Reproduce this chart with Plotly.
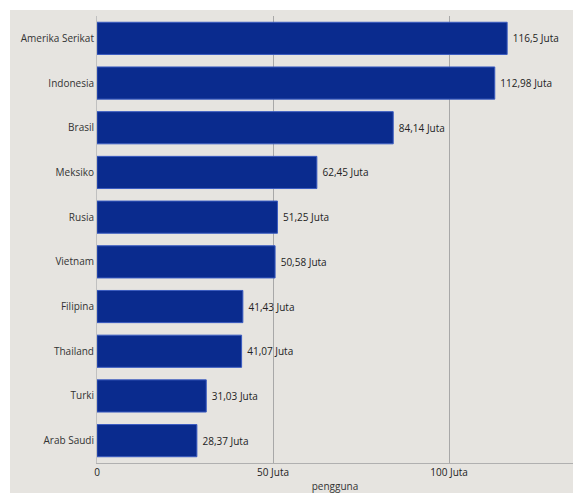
import plotly.graph_objects as go

countries = ["Amerika Serikat", "Indonesia", "Brasil", "Meksiko", "Rusia",
             "Vietnam", "Filipina", "Thailand", "Turki", "Arab Saudi"]
users = [116.5, 112.98, 84.14, 62.45, 51.25, 50.58, 41.43, 41.07, 31.03, 28.37]
tick_vals = [0, 50, 100]
tick_text = ["0", "50 Juta", "100 Juta"]

labels = [f"{v}".replace(".", ",") + " Juta" for v in users]

fig = go.Figure(go.Bar(
    x=users, y=countries, orientation="h",
    marker=dict(color="#0a2b8e", line=dict(color="#3a5bc0", width=1)),
    width=0.72,
    text=labels, texttemplate=" %{text}", textposition="outside", cliponaxis=False,
    textfont=dict(family="Open Sans", size=10, color="#222"),
))

fig.update_layout(
    width=573, height=493,
    margin=dict(l=97, r=0, t=16, b=30),
    paper_bgcolor="#e6e4e0", plot_bgcolor="#e6e4e0",
    font=dict(family="Open Sans", size=10, color="#333"),
    showlegend=False,
    shapes=[
        dict(type="rect", xref="paper", yref="paper", x0=-1, x1=2, y0=1.0134, y1=2,
             line_width=0, fillcolor="white", layer="below"),
        dict(type="rect", xref="paper", yref="paper", x0=-1, x1=-0.1828, y0=-1, y1=2,
             line_width=0, fillcolor="white", layer="below"),
    ],
)
fig.update_xaxes(range=[0, 135.2], tickvals=tick_vals, ticktext=tick_text,
                 showgrid=True, gridcolor="#a8a8a8", gridwidth=1,
                 showline=True, linecolor="#b0b0b0", zeroline=False,
                 ticks="", title=dict(text="pengguna", standoff=6,
                                      font=dict(size=10, color="#333")),
                 tickfont=dict(size=10, color="#222"))
fig.update_yaxes(categoryorder="array", categoryarray=countries[::-1],
                 showline=True, linecolor="#c0c0c0", ticks="", ticklen=0,
                 tickfont=dict(size=10, color="#333"), showgrid=False)

fig.write_html("out.html")
